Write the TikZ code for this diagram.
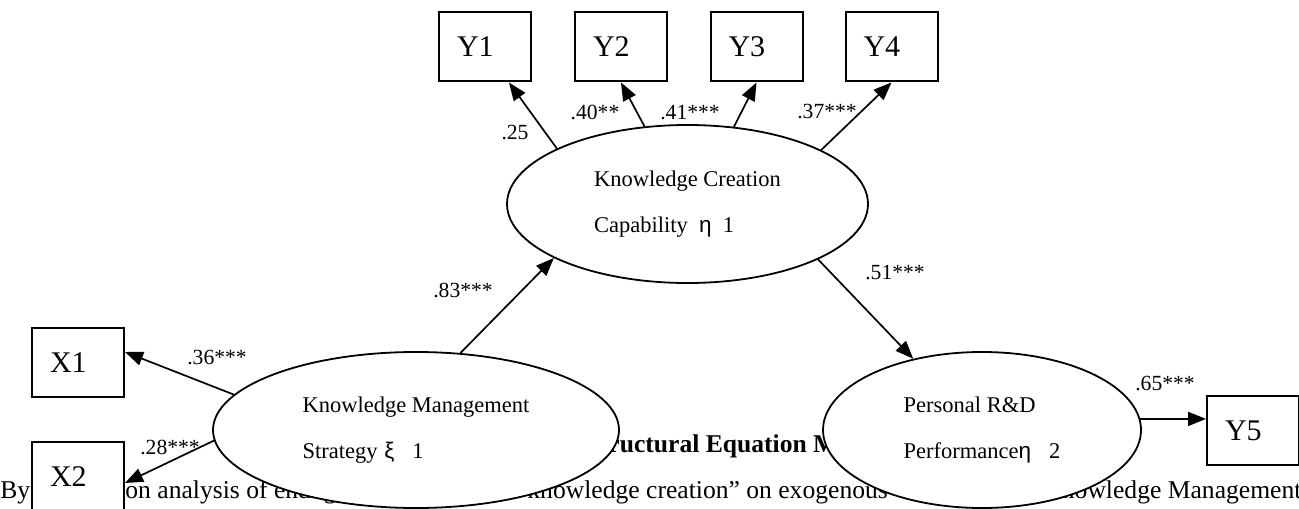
\documentclass[tikz,border=0pt]{standalone}
\usepackage{fontspec}
\setmainfont{Liberation Serif}
\newfontfamily\greekfont{Liberation Sans}
\usetikzlibrary{shapes.geometric,arrows.meta}

\newcommand{\gk}[1]{{\greekfont #1}}

\begin{document}
\begin{tikzpicture}[x=0.5pt, y=-0.5pt,
    latent/.style={ellipse, draw, line width=0.9pt, fill=white, inner sep=0pt, align=left, font=\fontsize{11.25}{23}\selectfont},
    observed/.style={rectangle, draw, line width=1pt, fill=white, inner xsep=9pt, inner ysep=0pt, text width=28pt, minimum height=34.5pt, align=left, font=\fontsize{15}{16}\selectfont},
    causal/.style={-{Triangle[length=9pt, width=7pt]}, line width=0.85pt},
    coef/.style={inner sep=0pt, font=\fontsize{10.8}{12}\selectfont},
    pagetext/.style={anchor=base west, inner sep=0pt, font=\fontsize{12.8}{14}\selectfont}]
    \useasboundingbox (0,0) rectangle (1299,508);

    % Page text behind the figure
    \node[pagetext] (by)  at (0,498)    {By};
    \node[pagetext] (reg) at (125,498)  {on analysis of endog};
    \node[pagetext] (var) at (527,498)  {knowledge creation” on exogenous};
    \node[pagetext] (km)  at (1043,498) {Knowledge Management};
    \node[pagetext, font=\bfseries\fontsize{12.8}{14}\selectfont] (cap) at (608,452) {ructural Equation M};

    % Latent variables
    \node[latent, minimum width=180.5pt, minimum height=79pt] (kcc) at (687.5,204) {Knowledge Creation\\Capability\hspace{0.5em}\gk{η}\hspace{0.5em}1};
    \node[latent, minimum width=203pt, minimum height=78pt] (kms) at (416,430) {Knowledge Management\\Strategy\hspace{0.3em}\gk{ξ}\hspace{0.8em}1};
    \node[latent, minimum width=159pt, minimum height=78pt] (prd) at (982,430) {Personal R\&D\\Performance\gk{η}\hspace{0.8em}2};

    % Observed variables
    \node[observed] (y1) at (485,47)     {Y1};
    \node[observed] (y2) at (621,47)     {Y2};
    \node[observed] (y3) at (756.5,47)   {Y3};
    \node[observed] (y4) at (891.5,47)   {Y4};
    \node[observed] (x1) at (78,362.5)   {X1};
    \node[observed] (x2) at (78,476.5)   {X2};
    \node[observed] (y5) at (1253,430.5) {Y5};

    % Paths
    \draw[causal] (kcc.157.8) -- ([xshift=12pt]y1.south);
    \draw[causal] (kcc.119.7) -- (y2.south);
    \draw[causal] (kcc.59.7)  -- (y3.south);
    \draw[causal] (kcc.22.5)  -- (y4.south);

    \draw[causal] (kms.169.1) -- ([yshift=5.25pt]x1.east);
    \draw[causal] (kms.183.4) -- ([yshift=-3.25pt]x2.east);

    \draw[causal] (kms.60.1)  -- (kcc.202.5);
    \draw[causal] (kcc.-23.3) -- (prd.134);
    \draw[causal] (prd.4)     -- (prd.4 -| y5.west);

    % Coefficients
    \node[coef] at (515,133)  {.25};
    \node[coef] at (595,112)  {.40**};
    \node[coef] at (690,113)  {.41***};
    \node[coef] at (827,112)  {.37***};
    \node[coef] at (463,290)  {.83***};
    \node[coef] at (895,273)  {.51***};
    \node[coef] at (217,357)  {.36***};
    \node[coef] at (170,447)  {.28***};
    \node[coef] at (1165,383) {.65***};
\end{tikzpicture}
\end{document}
